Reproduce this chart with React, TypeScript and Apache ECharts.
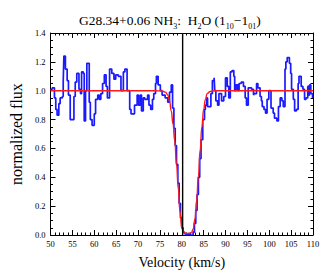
import React, { useEffect, useRef } from "react";
import * as echarts from "echarts";

const titleText = "G28.34+0.06 NH{s|3}:  H{s|2}O (1{s|10}\u22121{s|01})";
const xAxisName = "Velocity (km/s)";
const yAxisName = "normalized flux";

const xMin = 50;
const xMax = 110;
const xStep = 5;
const yMin = 0;
const yMax = 1.4;
const yStep = 0.2;

// Observed spectrum (stepped): channel start velocity and flux level
const velocities = [
  50.0, 50.4, 50.9, 51.2, 51.5, 51.9, 52.2, 52.7, 52.9, 53.05, 53.4, 53.8, 54.1, 54.5,
  55.35, 55.65, 56.0, 56.5, 56.85, 57.1, 57.5, 57.7, 58.0, 58.3, 58.85, 59.1, 59.5,
  60.0, 60.3, 60.8, 61.15, 61.5, 61.9, 62.3, 62.7, 63.0, 63.5, 64.0, 64.5, 64.9,
  65.5, 66.1, 66.65, 67.0, 67.5, 68.1, 68.4, 69.2, 69.8, 70.1, 70.5, 70.8, 71.2,
  71.56, 72.2, 72.5, 72.9, 73.3, 73.6, 74.0, 74.2, 74.6, 75.1, 75.5, 76.2, 76.8,
  77.2, 77.6, 77.9, 78.2, 78.5, 78.8, 79.1, 79.4, 79.7, 80.0, 80.3, 80.6, 81.0,
  81.4, 81.8, 82.2, 82.6, 82.9, 83.2, 83.5, 83.8, 84.1, 84.4, 84.8, 85.2, 85.4,
  85.7, 85.9, 86.66, 87.0, 87.4, 87.55, 87.8, 88.2, 88.5, 89.1, 89.6, 90.0, 90.4,
  90.75, 91.1, 91.5, 91.9, 92.1, 92.4, 92.8, 93.1, 93.6, 94.1, 94.5, 94.8, 95.2,
  95.4, 95.95, 96.4, 96.55, 97.1, 97.4, 97.9, 98.2, 98.4, 98.8, 99.15, 99.5, 99.9,
  100.4, 100.9, 101.2, 101.75, 102.1, 102.5, 102.9, 103.2, 103.6, 103.8, 104.1,
  104.6, 104.9, 105.1, 105.5, 105.8, 106.2, 106.6, 106.8, 107.3, 107.7, 108.07,
  108.4, 108.8, 109.0, 109.2, 109.5, 109.9, 110.0,
];
const flux = [
  1.01, 1.02, 0.95, 0.87, 0.83, 0.91, 0.95, 0.96, 1.06, 1.24, 1.15, 1.07, 0.97, 0.80,
  0.96, 1.06, 1.12, 1.01, 0.98, 1.13, 1.12, 0.79, 1.0, 1.19, 0.92, 0.80, 0.76,
  0.84, 0.94, 0.97, 0.94, 0.98, 1.05, 1.11, 1.03, 0.95, 1.15, 1.12, 1.08, 1.11,
  1.10, 1.0, 1.13, 1.15, 1.0, 0.87, 0.84, 0.90, 0.97, 0.90, 0.97, 0.86, 0.95,
  0.94, 0.97, 0.90, 0.87, 0.94, 0.98, 1.05, 1.10, 1.04, 1.0, 0.97, 0.95, 0.92,
  0.99, 1.04, 0.88, 0.74, 0.62, 0.49, 0.36, 0.22, 0.12, 0.05, 0.02, 0.01, 0.0,
  0.01, 0.0, 0.0, 0.02, 0.08, 0.17, 0.28, 0.40, 0.53, 0.66, 0.80, 0.87, 0.90,
  0.95, 0.89, 0.98, 1.07, 1.09, 1.0, 0.93, 0.90, 0.98, 0.93, 0.96, 1.09, 1.03,
  0.95, 1.13, 1.14, 1.10, 1.0, 1.04, 1.0, 1.05, 1.06, 1.03, 0.95, 0.90, 1.02,
  1.02, 1.01, 0.97, 0.98, 1.05, 1.02, 0.96, 0.93, 0.89, 0.87, 0.845, 0.94, 1.0,
  0.88, 0.845, 0.81, 0.79, 0.89, 0.95, 0.93, 0.89, 1.15, 1.20, 1.23,
  1.19, 1.12, 1.01, 0.94, 0.86, 0.87, 1.05, 1.10, 1.03, 1.01, 0.94,
  0.95, 1.03, 0.97, 1.04, 0.98, 0.95, 0.95,
];

// Fitted absorption profile
const fitVelocities = [
  50, 74, 75.5, 76.3, 76.8, 77.2, 77.6, 78.0, 78.4, 78.8, 79.2, 79.6, 80.0, 80.4,
  80.8, 81.5, 82.2, 82.6, 83.0, 83.4, 83.8, 84.2, 84.6, 85.0, 85.4, 85.8, 86.5,
  87.5, 110,
];
const fitFlux = [
  1.0, 1.0, 0.998, 0.99, 0.97, 0.93, 0.86, 0.77, 0.65, 0.49, 0.32, 0.16, 0.05, 0.02,
  0.012, 0.01, 0.015, 0.04, 0.11, 0.24, 0.41, 0.59, 0.75, 0.87, 0.94, 0.98, 0.995,
  1.0, 1.0,
];

const systemicVelocity = 80.2;

const serif = "Liberation Serif";

export default function App() {
  const ref = useRef<HTMLDivElement>(null);
  useEffect(() => {
    if (!ref.current) return;
    const chart = echarts.init(ref.current, null, { renderer: "svg" });
    const tickStyle = { color: "#000", width: 1 };
    const xCommon = {
      type: "value" as const,
      min: xMin,
      max: xMax,
      interval: xStep,
      axisLine: { show: true, onZero: false, lineStyle: { color: "#000", width: 1 } },
      axisTick: { show: true, inside: true, length: 5, lineStyle: tickStyle },
      minorTick: { show: true, splitNumber: 5, length: 2.5, lineStyle: tickStyle },
      splitLine: { show: false },
    };
    const yCommon = {
      type: "value" as const,
      min: yMin,
      max: yMax,
      interval: yStep,
      axisLine: { show: true, onZero: false, lineStyle: { color: "#000", width: 1 } },
      axisTick: { show: true, inside: true, length: 5, lineStyle: tickStyle },
      minorTick: { show: true, splitNumber: 4, length: 2.5, lineStyle: tickStyle },
      splitLine: { show: false },
    };
    chart.setOption({
      animation: false,
      backgroundColor: "#fff",
      title: {
        text: titleText,
        left: 74,
        top: 5,
        textStyle: {
          fontFamily: serif,
          fontSize: 13.5,
          fontWeight: "normal",
          color: "#000",
          rich: {
            s: { fontFamily: serif, fontSize: 8, color: "#000", verticalAlign: "bottom", lineHeight: 20 },
          },
        },
      },
      grid: { left: 44, right: 14, top: 33, bottom: 41, containLabel: false },
      xAxis: [
        {
          ...xCommon,
          position: "bottom",
          name: xAxisName,
          nameLocation: "middle",
          nameGap: 20,
          nameTextStyle: { fontFamily: serif, fontSize: 14, color: "#000" },
          axisLabel: { fontFamily: serif, fontSize: 8.5, color: "#000", margin: 4 },
        },
        { ...xCommon, position: "top", axisLabel: { show: false } },
      ],
      yAxis: [
        {
          ...yCommon,
          position: "left",
          name: yAxisName,
          nameLocation: "middle",
          nameGap: 25,
          nameTextStyle: { fontFamily: serif, fontSize: 16, color: "#000" },
          axisLabel: {
            fontFamily: serif,
            fontSize: 8.5,
            color: "#000",
            margin: 5,
            formatter: (v: number) => v.toFixed(1),
          },
        },
        { ...yCommon, position: "right", axisLabel: { show: false } },
      ],
      series: [
        {
          type: "line",
          xAxisIndex: 0,
          yAxisIndex: 0,
          step: "end",
          showSymbol: false,
          data: velocities.map((v, i) => [v, flux[i]]),
          lineStyle: { color: "#1a1aff", width: 1.7 },
          z: 2,
        },
        {
          type: "line",
          xAxisIndex: 0,
          yAxisIndex: 0,
          smooth: true,
          smoothMonotone: "x",
          showSymbol: false,
          data: fitVelocities.map((v, i) => [v, fitFlux[i]]),
          lineStyle: { color: "#ff1a1a", width: 1.4 },
          z: 3,
        },
        {
          type: "line",
          xAxisIndex: 0,
          yAxisIndex: 0,
          showSymbol: false,
          data: [
            [systemicVelocity, yMin],
            [systemicVelocity, yMax],
          ],
          lineStyle: { color: "#000", width: 1.4 },
          z: 4,
        },
      ],
    });
    return () => chart.dispose();
  }, []);
  return (
    <div
      ref={ref}
      style={{ position: "fixed", left: 0, top: 0, width: 327, height: 276, background: "#fff" }}
    />
  );
}
